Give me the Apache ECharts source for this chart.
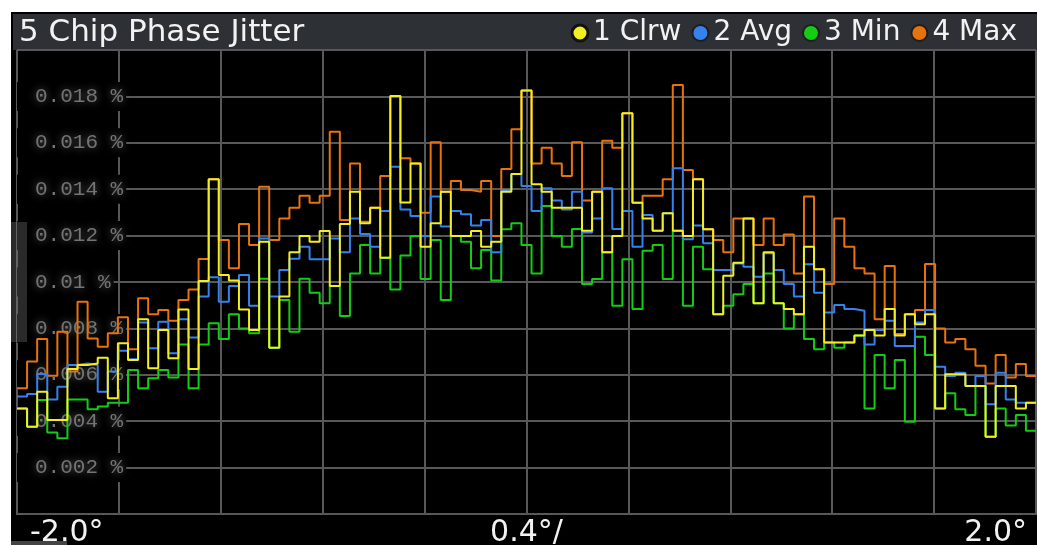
<!DOCTYPE html>
<html>
<head>
<meta charset="utf-8">
<title>5 Chip Phase Jitter</title>
<script src="https://cdn.jsdelivr.net/npm/echarts@6/dist/echarts.min.js"></script>
<style>
  html, body { margin: 0; padding: 0; background: #fff; }
  #chart {
    width: 1037px;
    height: 545px;
    background: linear-gradient(#000, #000) 11px 12px / 1026px 533px no-repeat, #fff;
  }
</style>
</head>
<body>
<div id="chart"></div>
<script>
// trace values, one per bin, in units of 0.001 %
const clrw = [
  4.55, 3.76, 5.27, 4.05, 4.05, 6.25, 6.42, 6.49, 6.74, 4.99,
  7.36, 6.64, 8.39, 6.28, 7.93, 6.71, 8.82, 6.25, 10.04, 14.43,
  10.30, 10.06, 8.82, 7.93, 11.74, 7.17, 9.37, 11.28, 11.98, 11.74,
  12.20, 9.83, 12.50, 13.89, 12.53, 13.20, 11.05, 18.02, 13.43, 15.11,
  11.52, 12.53, 13.89, 11.98, 11.98, 12.20, 11.52, 11.74, 13.89, 14.66,
  18.25, 14.21, 13.89, 13.20, 13.20, 13.20, 12.21, 13.89, 11.28, 11.98,
  17.27, 13.42, 12.74, 12.21, 12.96, 12.21, 11.98, 14.43, 12.27, 8.61,
  10.27, 10.83, 12.74, 9.08, 11.28, 9.08, 8.84, 8.61, 11.52, 10.55,
  7.39, 7.39, 7.39, 7.69, 7.93, 7.69, 8.84, 7.69, 8.61, 8.18,
  8.61, 4.55, 6.02, 6.02, 5.52, 5.52, 3.33, 5.52, 5.52, 4.55,
  4.80
];
const avg = [
  5.06, 5.17, 6.03, 4.94, 5.49, 6.42, 6.49, 6.42, 5.27, 6.14,
  7.04, 6.67, 8.25, 7.14, 8.29, 6.93, 8.39, 7.61, 9.37, 10.20,
  9.15, 9.83, 10.30, 8.98, 11.88, 9.37, 10.52, 11.00, 11.52, 10.98,
  10.98, 11.88, 11.28, 12.74, 12.07, 11.52, 13.06, 14.97, 13.13, 12.84,
  11.98, 13.68, 12.39, 13.06, 12.92, 12.44, 12.67, 11.28, 13.97, 14.66,
  14.14, 13.06, 14.04, 13.51, 13.13, 13.89, 12.13, 12.74, 14.04, 12.28,
  13.06, 11.52, 12.89, 12.21, 12.96, 14.90, 11.84, 12.43, 11.67, 10.52,
  10.52, 10.80, 10.66, 10.23, 11.24, 10.52, 9.91, 9.37, 10.76, 9.54,
  8.69, 9.01, 8.84, 8.76, 7.31, 7.93, 8.33, 7.24, 7.24, 8.25,
  8.79, 6.35, 5.95, 6.09, 5.52, 5.95, 4.73, 6.09, 4.94, 4.80,
  4.80
];
const min = [
  4.55, 3.76, 4.91, 3.51, 3.26, 4.94, 4.94, 4.51, 4.63, 4.80,
  4.80, 6.21, 5.42, 5.85, 6.21, 5.88, 7.31, 5.42, 7.31, 8.22,
  7.54, 8.61, 8.00, 7.79, 10.14, 7.17, 9.22, 7.86, 10.14, 9.54,
  9.08, 9.83, 8.53, 10.37, 11.59, 10.37, 11.05, 9.68, 11.14, 11.98,
  10.13, 11.81, 9.22, 11.98, 11.74, 10.59, 11.38, 10.06, 12.27, 12.53,
  11.59, 10.37, 13.28, 11.98, 11.52, 12.28, 9.91, 10.13, 11.28, 8.98,
  10.98, 8.84, 11.35, 11.59, 10.13, 12.21, 8.98, 11.52, 10.55, 8.61,
  8.98, 9.47, 9.91, 9.08, 10.37, 9.08, 8.00, 8.61, 7.54, 7.10,
  7.39, 7.17, 7.39, 7.69, 4.55, 6.85, 5.42, 6.64, 3.98, 7.64,
  6.85, 4.55, 5.20, 4.51, 4.27, 5.52, 3.33, 4.55, 3.81, 4.27,
  3.59
];
const max = [
  5.42, 6.57, 7.54, 5.96, 7.86, 6.14, 9.15, 7.57, 7.21, 7.79,
  8.48, 7.10, 9.30, 8.61, 8.79, 8.33, 9.22, 9.68, 10.99, 14.43,
  11.81, 10.59, 12.50, 11.59, 14.11, 11.81, 12.74, 13.20, 13.72, 13.42,
  13.72, 16.48, 12.67, 15.11, 12.60, 13.20, 14.57, 18.02, 15.33, 15.11,
  12.99, 16.02, 13.89, 14.35, 13.97, 13.89, 14.35, 11.98, 14.87, 16.58,
  18.25, 15.11, 15.79, 15.11, 14.57, 16.02, 13.51, 13.89, 16.09, 15.79,
  17.27, 13.42, 13.72, 13.72, 14.43, 18.49, 14.83, 14.43, 12.27, 11.81,
  11.28, 12.74, 12.74, 11.59, 12.74, 11.59, 12.05, 10.37, 13.68, 10.55,
  9.91, 12.74, 11.52, 10.59, 10.37, 8.39, 10.69, 7.76, 8.61, 8.79,
  10.78, 8.00, 7.39, 7.54, 7.10, 6.39, 5.63, 6.85, 5.88, 6.47,
  5.95
];

const traceNames = ['1 Clrw', '2 Avg', '3 Min', '4 Max'];
const traceColors = ['#f2ee22', '#3582ee', '#14cc14', '#e8720c'];
const xTickLabels = ['-2.0°', '0.4°/', '2.0°'];
const xTickIndex = [0, 5, 10];

const X_MIN = -2, X_MAX = 2;
const BIN = (X_MAX - X_MIN) / clrw.length;

// each value holds for one bin, so add the closing edge for the last one
function toSteps(vals) {
  const pts = vals.map((v, i) => [X_MIN + i * BIN, v]);
  pts.push([X_MAX, vals[vals.length - 1]]);
  return pts;
}

const traces = [clrw, avg, min, max];
// drawn back to front so that trace 1 ends up on top
const series = [3, 2, 1, 0].map(i => ({
  name: traceNames[i],
  type: 'line',
  step: 'end',
  symbol: 'none',
  animation: false,
  color: traceColors[i],
  lineStyle: { width: 2, color: traceColors[i] },
  data: toSteps(traces[i])
}));

const gridColor = '#585858';
const whiteText = '#f2f2f2';

const option = {
  animation: false,
  backgroundColor: 'transparent',
  title: {
    text: '5 Chip Phase Jitter',
    left: 19,
    top: 17,
    padding: 0,
    textStyle: {
      color: whiteText,
      fontSize: 31,
      fontWeight: 'normal',
      fontFamily: 'DejaVu Sans'
    }
  },
  legend: {
    data: [
      { name: traceNames[0], itemStyle: { borderWidth: 3, borderColor: '#111' } },
      traceNames[1],
      traceNames[2],
      traceNames[3]
    ],
    right: 20,
    top: 19,
    padding: 0,
    icon: 'circle',
    itemWidth: 16,
    itemHeight: 16,
    itemGap: 10,
    itemStyle: { borderColor: '#1e1e1e', borderWidth: 2 },
    textStyle: {
      color: whiteText,
      fontSize: 28,
      fontFamily: 'DejaVu Sans'
    }
  },
  graphic: [
    {
      type: 'rect',
      z: 0,
      shape: { x: 13, y: 14, width: 1024, height: 36 },
      style: { fill: '#2d3135' }
    },
    {
      type: 'rect',
      z: 10,
      shape: { x: 11, y: 222, width: 16, height: 120 },
      style: { fill: 'rgba(120,120,120,0.35)' }
    },
    {
      type: 'rect',
      z: 10,
      shape: { x: 11, y: 541, width: 56, height: 4 },
      style: { fill: '#444' }
    }
  ],
  grid: {
    left: 17,
    right: 1,
    top: 50,
    bottom: 31,
    outerBoundsMode: 'none',
    containLabel: false,
    show: true,
    backgroundColor: '#000',
    borderColor: gridColor,
    borderWidth: 2
  },
  xAxis: {
    type: 'value',
    min: X_MIN,
    max: X_MAX,
    interval: 0.4,
    z: 0,
    axisLine: { show: true, lineStyle: { color: gridColor, width: 2 } },
    axisTick: { show: false },
    splitLine: { show: true, lineStyle: { color: gridColor, width: 2 } },
    axisLabel: {
      margin: 4,
      color: whiteText,
      fontSize: 30,
      fontFamily: 'DejaVu Sans',
      alignMinLabel: 'left',
      alignMaxLabel: 'right',
      formatter: (value, index) => {
        const k = xTickIndex.indexOf(index);
        if (k === 0) return '{l|' + xTickLabels[0] + '}';
        if (k === 2) return '{r|' + xTickLabels[2] + '}';
        return k === 1 ? xTickLabels[1] : '';
      },
      rich: {
        l: { color: whiteText, fontSize: 30, fontFamily: 'DejaVu Sans', padding: [0, 0, 0, 13] },
        r: { color: whiteText, fontSize: 30, fontFamily: 'DejaVu Sans', padding: [0, 9, 0, 0] }
      }
    }
  },
  yAxis: {
    type: 'value',
    min: 0,
    max: 20,
    interval: 2,
    z: 1,
    axisLine: { show: true, lineStyle: { color: gridColor, width: 2 } },
    axisTick: { show: false },
    splitLine: { show: true, lineStyle: { color: gridColor, width: 2 } },
    axisLabel: {
      inside: true,
      margin: 0,
      showMinLabel: false,
      showMaxLabel: false,
      color: '#747474',
      fontSize: 21,
      fontFamily: 'Liberation Mono',
      backgroundColor: '#000',
      padding: [4, 3, 4, 18],
      textShadowColor: 'rgba(170,170,170,0.6)',
      textShadowBlur: 8,
      formatter: v => +(v / 1000).toFixed(3) + ' %'
    }
  },
  series: series
};

const chart = echarts.init(document.getElementById('chart'), null, { renderer: 'canvas' });
chart.setOption(option);
</script>
</body>
</html>
